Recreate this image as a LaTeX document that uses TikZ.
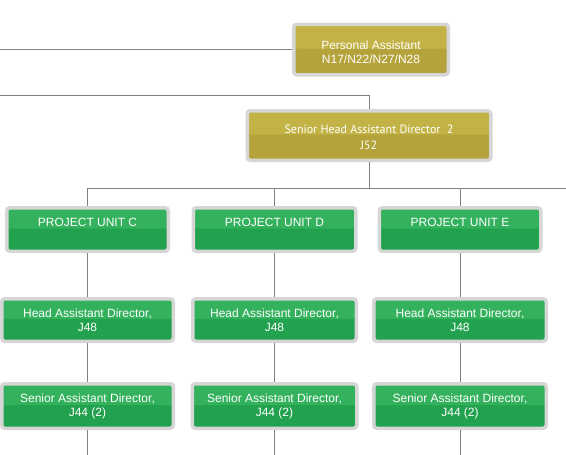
\documentclass[tikz,border=0pt]{standalone}
\usepackage{fontspec}
\setmainfont{Liberation Sans}
\newfontfamily\headfont{PT Sans}
\usetikzlibrary{positioning,calc}
\definecolor{goldtop}{HTML}{C3B346}
\definecolor{goldlow}{HTML}{B3A33A}
\definecolor{greentop}{HTML}{33B15C}
\definecolor{greenlow}{HTML}{22A14E}
\definecolor{rim}{HTML}{D6D6D6}
\definecolor{wire}{HTML}{808080}
\tikzset{
  card/.style={draw=rim, line width=3.5pt, rounded corners=3pt, align=center, text=white,
    inner sep=0pt, font=\fontsize{12}{14}\selectfont},
  gold/.style={card, fill=goldlow, path picture={\fill[goldtop] (path picture bounding box.north west)
    rectangle ($(path picture bounding box.east)+(0,1pt)$);}},
  green/.style={card, fill=greenlow, path picture={\fill[greentop] (path picture bounding box.north west)
    rectangle ($(path picture bounding box.east)+(0,1pt)$);}},
  unit/.style={green, minimum height=43.5pt, text depth=14pt},
  head/.style={green, minimum height=42.5pt},
  senior/.style={green, minimum height=44.5pt},
  wire/.style={draw=wire, line width=0.8pt}
}
\begin{document}
\begin{tikzpicture}[x=1pt, y=-1pt]
\useasboundingbox (0,0) rectangle (566,455);
% top of the chart
\node[gold, minimum width=154.5pt, minimum height=50.5pt] (pa) at (371,49.5) {\rule{0pt}{15pt}Personal Assistant\\N17/N22/N27/N28};
\node[gold, minimum width=243.5pt, minimum height=49.5pt, font=\headfont\fontsize{12}{16}\selectfont] (sh) at (369,135.5)
  {\rule{0pt}{13pt}Senior Head Assistant Director\ \ 2\\J52};
\coordinate (paIn) at (0,49.5);
\coordinate (shIn) at (0,95);
\coordinate (bus) at (369,188);
\coordinate (busR) at (566,188);
% project units
\node[unit, minimum width=161.5pt] (uc) at (87.5,229.5) {PROJECT UNIT C};
\node[unit, minimum width=162.5pt] (ud) at (274.5,229.5) {PROJECT UNIT D};
\node[unit, minimum width=161.5pt] (ue) at (460,229.5) {PROJECT UNIT E};
\node[head, minimum width=171.5pt, below=44pt of uc] (hc) {Head Assistant Director,\\J48};
\node[head, minimum width=163.5pt, below=44pt of ud] (hd) {Head Assistant Director,\\J48};
\node[head, minimum width=172.5pt, below=44pt of ue] (he) {Head Assistant Director,\\J48};
\node[senior, minimum width=171.5pt, below=39pt of hc] (sc) {Senior Assistant Director,\\J44 (2)};
\node[senior, minimum width=164.5pt, below=39pt of hd] (sd) {Senior Assistant Director,\\J44 (2)};
\node[senior, minimum width=172.5pt, below=39pt of he] (se) {Senior Assistant Director,\\J44 (2)};
\coordinate (cEnd) at (87.5,455);
\coordinate (dEnd) at (274.5,455);
\coordinate (eEnd) at (460,455);
% connectors
\draw[wire] (paIn) -- (pa);
\draw[wire] (shIn) -| (sh);
\draw[wire] (sh) |- (busR);
\draw[wire] (bus) -| (uc);
\draw[wire] (bus) -| (ud);
\draw[wire] (bus) -| (ue);
\draw[wire] (uc) -- (hc);
\draw[wire] (ud) -- (hd);
\draw[wire] (ue) -- (he);
\draw[wire] (hc) -- (sc);
\draw[wire] (hd) -- (sd);
\draw[wire] (he) -- (se);
\draw[wire] (sc) -- (cEnd);
\draw[wire] (sd) -- (dEnd);
\draw[wire] (se) -- (eEnd);
\end{tikzpicture}
\end{document}
